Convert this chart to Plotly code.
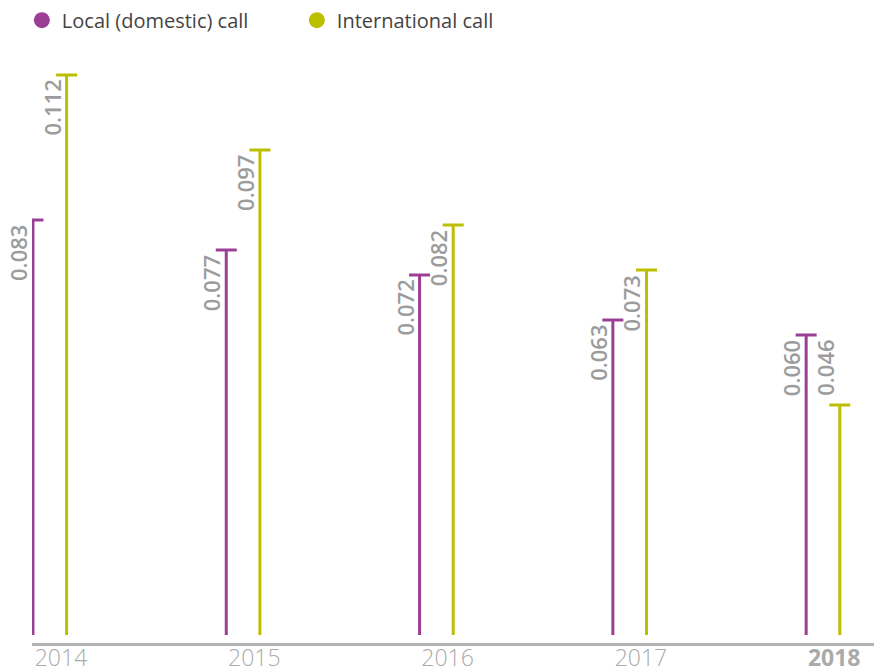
import plotly.graph_objects as go

# Average cost per call minute, by year
years = ["2014", "2015", "2016", "2017", "2018"]
local_call = [0.083, 0.077, 0.072, 0.063, 0.060]
international_call = [0.112, 0.097, 0.082, 0.073, 0.046]

PURPLE = "#9b3e96"
GREEN = "#bcbf00"
LABEL_GREY = "#9c9c9c"

GAP = 0.174      # horizontal offset of the second stem within a year group
TICK_SHIFT = 0.145

fig = go.Figure()


def stems(values, offset):
    xs, ys = [], []
    for i, v in enumerate(values):
        xs += [i + offset, i + offset, None]
        ys += [0, v, None]
    return xs, ys


series = [
    ("Local (domestic) call", local_call, 0.0, PURPLE),
    ("International call", international_call, GAP, GREEN),
]

for name, values, offset, color in series:
    xs, ys = stems(values, offset)
    fig.add_trace(go.Scatter(
        x=xs, y=ys, mode="lines", line=dict(color=color, width=3),
        showlegend=False, hoverinfo="skip"))
    fig.add_trace(go.Scatter(
        x=[i + offset for i in range(len(values))], y=values, mode="markers",
        marker=dict(symbol="line-ew", size=15, line=dict(color=color, width=3)),
        showlegend=False, name=name))
    # legend entry
    fig.add_trace(go.Scatter(
        x=[None], y=[None], mode="markers", name=name,
        marker=dict(symbol="circle", size=17, color=color)))
    for i, v in enumerate(values):
        # a label never sits below the local-call label of its year
        label_y = max(v, local_call[i])
        fig.add_annotation(
            x=i + offset, y=label_y, xref="x", yref="y", text=f"{v:.3f}",
            textangle=-90, showarrow=False, xanchor="right", yanchor="top",
            xshift=2, yshift=-3,
            font=dict(family="Open Sans", size=22, color=LABEL_GREY, weight=600))

ticktext = [f"<b>{y}</b>" if y == years[-1] else y for y in years]

fig.update_layout(
    width=874, height=671,
    margin=dict(l=32, r=0, t=45, b=28),
    plot_bgcolor="white", paper_bgcolor="white",
    font=dict(family="Open Sans"),
    legend=dict(
        orientation="h", xref="container", yref="container",
        x=0.025, y=0.970, xanchor="left", yanchor="middle",
        font=dict(size=20, color="#444444"), entrywidth=230,
        itemsizing="trace"),
    xaxis=dict(
        range=[-0.005, 4.351], showgrid=False, zeroline=False, automargin=False,
        showline=True, linecolor="#b3b3b3", linewidth=2.5,
        tickmode="array", tickvals=[i + TICK_SHIFT for i in range(len(years))],
        ticktext=ticktext, ticks="", ticklabelstandoff=-7,
        tickfont=dict(family="Open Sans", size=23, color="#aaaaaa", weight=300)),
    yaxis=dict(range=[-0.0016, 0.118], visible=False, automargin=False),
)

fig.write_html("out.html")
